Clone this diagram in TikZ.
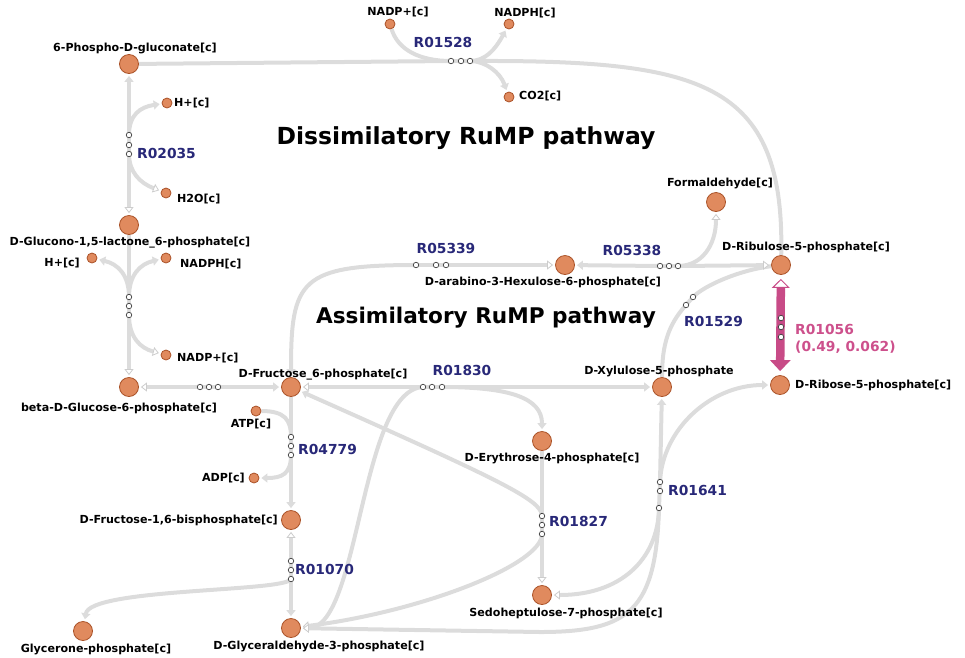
\documentclass[tikz,border=0pt]{standalone}
\usepackage{fontspec}
\setmainfont{DejaVu Sans}
\usetikzlibrary{arrows.meta}
\pgfdeclarelayer{bg}
\pgfsetlayers{bg,main}
\definecolor{linegray}{RGB}{220,220,220}
\definecolor{tipgray}{RGB}{205,205,205}
\definecolor{metfill}{RGB}{224,138,94}
\definecolor{metdraw}{RGB}{170,82,40}
\definecolor{dotc}{RGB}{60,60,60}
\definecolor{rxnblue}{RGB}{40,40,120}
\definecolor{magbar}{RGB}{200,75,135}
\definecolor{maglab}{RGB}{205,80,140}
\newcommand\metfont{\fontsize{11.1}{13}\selectfont\bfseries}
\newcommand\rxnfont{\fontsize{13.8}{15}\selectfont\bfseries}
\newcommand\ttlfont{\fontsize{23.5}{26}\selectfont\bfseries}
\newcommand\ttlfontb{\fontsize{21.6}{25}\selectfont\bfseries}
\begin{document}
\begin{tikzpicture}[x=1pt,y=-1pt,
  met/.style={circle, fill=metfill, draw=metdraw, line width=0.8pt, minimum size=19pt, inner sep=0pt},
  smet/.style={met, minimum size=10pt},
  rdot/.style={circle, fill=white, draw=dotc, line width=0.7pt, minimum size=5.5pt, inner sep=0pt},
  mlab/.style={font=\metfont, text=black, inner sep=0pt},
  rlab/.style={font=\rxnfont, text=rxnblue, inner sep=0pt},
  conn/.style={draw=linegray, line width=4pt},
  arrF/.style={-{Triangle[length=6pt,width=9pt,color=linegray]}, shorten >=2pt},
  arrO/.style={-{Triangle[open,fill=white,length=6pt,width=9pt,line width=0.8pt,color=tipgray]}, shorten >=2pt}]
\useasboundingbox (0,0) rectangle (965,657);

% metabolites
\node[met]  (pg6)    at (129,64)  {};
\node[smet] (hA)     at (167,103) {};
\node[smet] (h2o)    at (166,193) {};
\node[met]  (glac)   at (129,225) {};
\node[smet] (hB)     at (92,258)  {};
\node[smet] (nadphB) at (166,258) {};
\node[smet] (nadpB)  at (166,355) {};
\node[met]  (bg6p)   at (129,387) {};
\node[met]  (f6p)    at (291,387) {};
\node[smet] (atp)    at (256,411) {};
\node[smet] (adp)    at (254,478) {};
\node[met]  (fbp)    at (291,520) {};
\node[met]  (gly)    at (83,631)  {};
\node[met]  (g3p)    at (291,628) {};
\node[met]  (x5p)    at (662,387) {};
\node[met]  (e4p)    at (542,441) {};
\node[met]  (s7p)    at (542,595) {};
\node[met]  (r5p)    at (780,385) {};
\node[met]  (ru5p)   at (781,265) {};
\node[met]  (form)   at (716,202) {};
\node[met]  (hex)    at (565,265) {};
\node[smet] (nadpA)  at (390,24)  {};
\node[smet] (nadphA) at (509,24)  {};
\node[smet] (co2)    at (509,97)  {};

% reaction dots
\node[rdot] (d1528a) at (451,61) {}; \node[rdot] (d1528b) at (461,61) {}; \node[rdot] (d1528c) at (470,61) {};
\node[rdot] (d2035a) at (129,135) {}; \node[rdot] (d2035b) at (129,145) {}; \node[rdot] (d2035c) at (129,154) {};
\node[rdot] (dlaca) at (129,297) {}; \node[rdot] (dlacb) at (129,306) {}; \node[rdot] (dlacc) at (129,315) {};
\node[rdot] (dpgia) at (200,387) {}; \node[rdot] (dpgib) at (209,387) {}; \node[rdot] (dpgic) at (218,387) {};
\node[rdot] (d4779a) at (291,437) {}; \node[rdot] (d4779b) at (291,446) {}; \node[rdot] (d4779c) at (291,455) {};
\node[rdot] (d1070a) at (291,561) {}; \node[rdot] (d1070b) at (291,570) {}; \node[rdot] (d1070c) at (291,579) {};
\node[rdot] (d1830a) at (423,387) {}; \node[rdot] (d1830b) at (432,387) {}; \node[rdot] (d1830c) at (442,387) {};
\node[rdot] (d1827a) at (542,516) {}; \node[rdot] (d1827b) at (542,525) {}; \node[rdot] (d1827c) at (542,534) {};
\node[rdot] (d1641a) at (660,482) {}; \node[rdot] (d1641b) at (660,491) {}; \node[rdot] (d1641c) at (659,508) {};
\node[rdot] (d1056a) at (781,318) {}; \node[rdot] (d1056b) at (781,327) {}; \node[rdot] (d1056c) at (781,337) {};
\node[rdot] (d5338a) at (660,266) {}; \node[rdot] (d5338b) at (669,266) {}; \node[rdot] (d5338c) at (678,266) {};
\node[rdot] (d5339a) at (416,265) {}; \node[rdot] (d5339b) at (436,265) {}; \node[rdot] (d5339c) at (446,265) {};
\node[rdot] (d1529a) at (686,305) {}; \node[rdot] (d1529b) at (693,297) {};

\begin{pgfonlayer}{bg}
% R01528
\draw[conn] (pg6) -- (d1528a.center) -- (d1528c.center);
\draw[conn] (d1528c.center) .. controls (700,60) and (785,80) .. (ru5p);
\draw[conn] (nadpA) .. controls (398,50) and (420,61) .. (d1528a.center);
\draw[conn,arrF] (d1528c.center) .. controls (485,61) and (495,50) .. (nadphA);
\draw[conn,arrF] (d1528c.center) .. controls (485,61) and (500,72) .. (co2);
% R02035
\draw[conn,arrF] (d2035a.center) -- (pg6);
\draw[conn] (d2035a.center) -- (d2035c.center);
\draw[conn,arrO] (d2035c.center) -- (glac);
\draw[conn,arrF] (d2035a.center) .. controls (129,115) and (140,107) .. (hA);
\draw[conn,arrO] (d2035c.center) .. controls (129,172) and (140,183) .. (h2o);
% lactone -> beta-D-glucose
\draw[conn] (glac) -- (dlaca.center) -- (dlacc.center);
\draw[conn,arrO] (dlacc.center) -- (bg6p);
\draw[conn,arrF] (dlaca.center) .. controls (129,275) and (118,264) .. (hB);
\draw[conn,arrF] (dlaca.center) .. controls (129,275) and (140,264) .. (nadphB);
\draw[conn,arrO] (dlacc.center) .. controls (129,337) and (140,348) .. (nadpB);
% glucose <-> fructose
\draw[conn,arrO] (dpgia.center) -- (bg6p);
\draw[conn] (dpgia.center) -- (dpgic.center);
\draw[conn,arrF] (dpgic.center) -- (f6p);
% R04779
\draw[conn] (f6p) -- (d4779a.center) -- (d4779c.center);
\draw[conn,arrF] (d4779c.center) -- (fbp);
\draw[conn] (atp) .. controls (285,411) and (291,420) .. (d4779a.center);
\draw[conn,arrF] (d4779c.center) .. controls (291,474) and (282,478) .. (adp);
% R01070
\draw[conn,arrO] (d1070a.center) -- (fbp);
\draw[conn] (d1070a.center) -- (d1070c.center);
\draw[conn,arrF] (d1070c.center) -- (g3p);
\draw[conn,arrF] (d1070c.center) .. controls (286,592) and (90,588) .. (gly);
% R01830
\draw[conn,arrO] (d1830a.center) -- (f6p);
\draw[conn] (d1830a.center) -- (d1830c.center);
\draw[conn,arrF] (d1830c.center) -- (x5p);
\draw[conn,arrF] (d1830c.center) .. controls (510,387) and (542,398) .. (e4p);
\draw[conn,arrO] (d1830a.center) .. controls (360,390) and (360,628) .. (g3p);
% R01827
\draw[conn,arrF] (d1827a.center) .. controls (542,500) and (500,480) .. (f6p);
\draw[conn] (e4p) -- (d1827a.center) -- (d1827c.center);
\draw[conn,arrO] (d1827c.center) -- (s7p);
\draw[conn,arrO] (d1827c.center) .. controls (542,565) and (420,612) .. (g3p);
% R01641
\draw[conn,arrF] (d1641a.center) -- (x5p);
\draw[conn,arrF] (d1641a.center) .. controls (662,430) and (710,385) .. (r5p);
\draw[conn] (d1641a.center) -- (d1641c.center);
\draw[conn,arrO] (d1641c.center) .. controls (658,560) and (620,595) .. (s7p);
\draw[conn,arrO] (d1641c.center) .. controls (656,610) and (630,632) .. (540,632) -- (g3p);
% R01529
\draw[conn] (ru5p) .. controls (740,270) and (705,285) .. (d1529b.center) -- (d1529a.center);
\draw[conn] (d1529a.center) .. controls (668,325) and (662,345) .. (x5p);
% R05338
\draw[conn,arrO] (d5338c.center) -- (ru5p);
\draw[conn] (d5338a.center) -- (d5338c.center);
\draw[conn,arrF] (d5338a.center) -- (hex);
\draw[conn,arrO] (d5338c.center) .. controls (702,266) and (716,245) .. (form);
% R05339
\draw[conn,arrO] (d5339c.center) -- (hex);
\draw[conn] (d5339a.center) -- (d5339c.center);
\draw[conn,arrF] (d5339a.center) .. controls (300,265) and (291,280) .. (f6p);
% R01056
\draw[draw=magbar, line width=8.5pt,
  {Triangle[open,fill=white,line width=1pt,length=9pt,width=18pt,color=magbar]}-{Triangle[length=11pt,width=20pt,color=magbar]},
  shorten <=4pt, shorten >=4pt] (ru5p) -- (r5p);
\end{pgfonlayer}

% labels
\node[mlab] (l_pg6) at (135,48) {6-Phospho-D-gluconate[c]};
\node[mlab, anchor=west] (l_hA) at (174,103) {H+[c]};
\node[rlab, anchor=west] (l_r02035) at (137,153) {R02035};
\node[mlab, anchor=west] (l_h2o) at (177,199) {H2O[c]};
\node[mlab] (l_glac) at (130,243) {D-Glucono-1,5-lactone\_6-phosphate[c]};
\node[mlab, anchor=east] (l_hB) at (80,263) {H+[c]};
\node[mlab, anchor=west] (l_nadphB) at (180,264) {NADPH[c]};
\node[mlab, anchor=west] (l_nadpB) at (177,358) {NADP+[c]};
\node[mlab] (l_bg6p) at (119,408) {beta-D-Glucose-6-phosphate[c]};
\node[mlab] (l_f6p) at (323,375) {D-Fructose\_6-phosphate[c]};
\node[mlab] (l_atp) at (251,424) {ATP[c]};
\node[rlab, anchor=west] (l_r04779) at (298,449) {R04779};
\node[mlab, anchor=east] (l_adp) at (245,478) {ADP[c]};
\node[mlab, anchor=east] (l_fbp) at (278,520) {D-Fructose-1,6-bisphosphate[c]};
\node[rlab, anchor=west] (l_r01070) at (295,569) {R01070};
\node[mlab] (l_gly) at (96,649) {Glycerone-phosphate[c]};
\node[mlab] (l_g3p) at (319,646) {D-Glyceraldehyde-3-phosphate[c]};
\node[rlab] (l_r01830) at (462,370) {R01830};
\node[mlab] (l_x5p) at (659,371) {D-Xylulose-5-phosphate};
\node[mlab] (l_e4p) at (552,458) {D-Erythrose-4-phosphate[c]};
\node[rlab, anchor=west] (l_r01827) at (549,521) {R01827};
\node[mlab] (l_s7p) at (566,613) {Sedoheptulose-7-phosphate[c]};
\node[rlab, anchor=west] (l_r01641) at (668,490) {R01641};
\node[mlab, anchor=west] (l_r5p) at (795,385) {D-Ribose-5-phosphate[c]};
\node[mlab] (l_ru5p) at (806,247) {D-Ribulose-5-phosphate[c]};
\node[rlab, text=maglab, anchor=west] (l_r01056) at (795,329) {R01056};
\node[rlab, text=maglab, anchor=west] (l_r01056v) at (795,347) {(0.49, 0.062)};
\node[mlab] (l_form) at (720,183) {Formaldehyde[c]};
\node[rlab] (l_r05338) at (632,250) {R05338};
\node[mlab] (l_hex) at (543,282) {D-arabino-3-Hexulose-6-phosphate[c]};
\node[rlab] (l_r05339) at (446,248) {R05339};
\node[rlab, anchor=west] (l_r01529) at (684,321) {R01529};
\node[rlab] (l_r01528) at (443,42) {R01528};
\node[mlab] (l_nadpA) at (398,12) {NADP+[c]};
\node[mlab] (l_nadphA) at (525,13) {NADPH[c]};
\node[mlab, anchor=west] (l_co2) at (519,96) {CO2[c]};
\node[font=\ttlfont, inner sep=0pt] (t_dis) at (466,138) {Dissimilatory RuMP pathway};
\node[font=\ttlfontb, inner sep=0pt] (t_ass) at (486,318) {Assimilatory RuMP pathway};
\end{tikzpicture}
\end{document}
